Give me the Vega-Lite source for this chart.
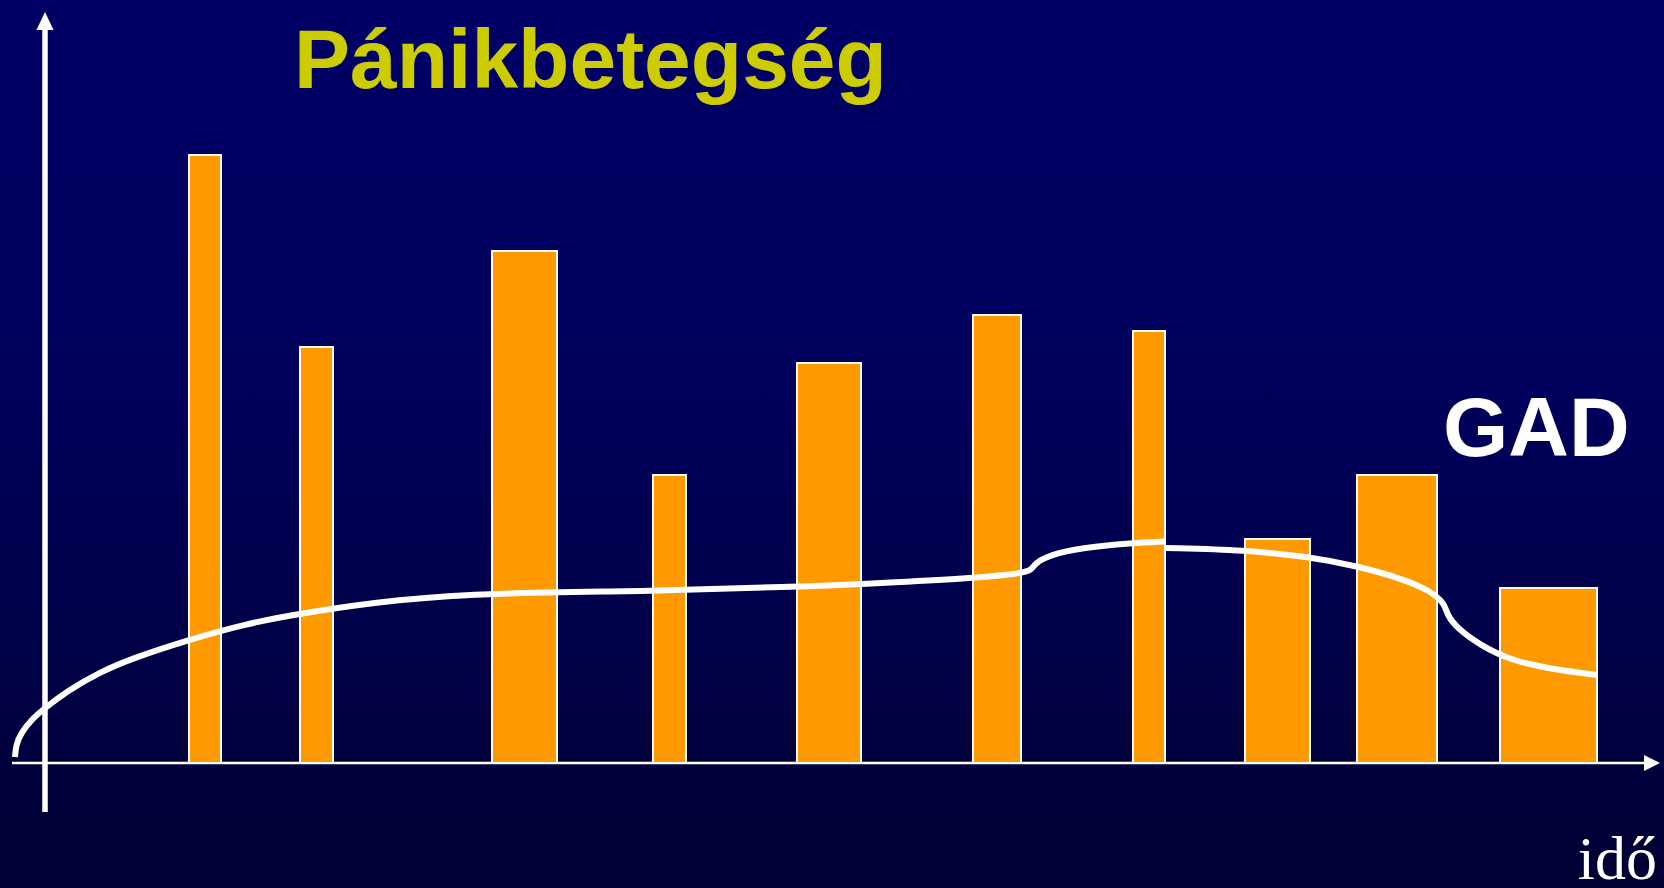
{
  "$schema": "https://vega.github.io/schema/vega-lite/v6.json",
  "width": 1664,
  "height": 888,
  "padding": 0,
  "autosize": {"type": "none"},
  "background": "#000044",
  "config": {"view": {"stroke": null}},
  "datasets": {
    "bars": [
      {"t0": 14.4, "t1": 17.6, "v": 60.8},
      {"t0": 25.5, "t1": 28.8, "v": 41.6},
      {"t0": 44.7, "t1": 51.2, "v": 51.2},
      {"t0": 60.8, "t1": 64.1, "v": 28.8},
      {"t0": 75.2, "t1": 81.6, "v": 40.0},
      {"t0": 92.8, "t1": 97.6, "v": 44.8},
      {"t0": 108.8, "t1": 112.0, "v": 43.2},
      {"t0": 120.0, "t1": 126.5, "v": 22.4},
      {"t0": 131.2, "t1": 139.2, "v": 28.8},
      {"t0": 145.5, "t1": 155.2, "v": 17.5}
    ],
    "gad": [
      {"seg": "a", "t": -3.0, "v": 0.6},
      {"seg": "a", "t": -2.9, "v": 1.8},
      {"seg": "a", "t": -2.4, "v": 3.0},
      {"seg": "a", "t": -1.3, "v": 4.4},
      {"seg": "a", "t": 0.0, "v": 5.5},
      {"seg": "a", "t": 2.2, "v": 7.2},
      {"seg": "a", "t": 5.5, "v": 9.1},
      {"seg": "a", "t": 8.8, "v": 10.5},
      {"seg": "a", "t": 14.3, "v": 12.3},
      {"seg": "a", "t": 20.0, "v": 13.9},
      {"seg": "a", "t": 25.7, "v": 15.0},
      {"seg": "a", "t": 35.5, "v": 16.4},
      {"seg": "a", "t": 44.7, "v": 17.0},
      {"seg": "a", "t": 60.8, "v": 17.2},
      {"seg": "a", "t": 75.2, "v": 17.6},
      {"seg": "a", "t": 85.5, "v": 18.1},
      {"seg": "a", "t": 92.8, "v": 18.5},
      {"seg": "a", "t": 97.6, "v": 18.95},
      {"seg": "a", "t": 98.7, "v": 19.3},
      {"seg": "a", "t": 99.0, "v": 20.0},
      {"seg": "a", "t": 100.5, "v": 20.8},
      {"seg": "a", "t": 103.5, "v": 21.5},
      {"seg": "a", "t": 108.8, "v": 22.0},
      {"seg": "a", "t": 112.0, "v": 22.15},
      {"seg": "b", "t": 112.0, "v": 21.5},
      {"seg": "b", "t": 120.0, "v": 21.3},
      {"seg": "b", "t": 126.5, "v": 20.6},
      {"seg": "b", "t": 131.2, "v": 19.7},
      {"seg": "b", "t": 135.5, "v": 18.5},
      {"seg": "b", "t": 138.6, "v": 17.2},
      {"seg": "b", "t": 140.0, "v": 15.9},
      {"seg": "b", "t": 140.2, "v": 14.8},
      {"seg": "b", "t": 141.3, "v": 13.4},
      {"seg": "b", "t": 143.5, "v": 11.8},
      {"seg": "b", "t": 146.5, "v": 10.3},
      {"seg": "b", "t": 150.5, "v": 9.4},
      {"seg": "b", "t": 155.2, "v": 8.8}
    ]
  },
  "layer": [
    {
      "data": {"values": [{"t0": -4.5, "t1": 161.9, "v0": -12.5, "v1": 76.3}]},
      "mark": {
        "type": "rect",
        "fill": {
          "gradient": "linear",
          "x1": 0, "y1": 0, "x2": 0, "y2": 1,
          "stops": [
            {"offset": 0, "color": "#000066"},
            {"offset": 0.45, "color": "#00005c"},
            {"offset": 1, "color": "#000033"}
          ]
        }
      },
      "encoding": {
        "x": {"field": "t0", "type": "quantitative", "scale": {"domain": [-4.5, 161.9], "nice": false, "zero": false}, "axis": null},
        "x2": {"field": "t1"},
        "y": {"field": "v1", "type": "quantitative", "scale": {"domain": [-12.5, 76.3], "nice": false, "zero": false}, "axis": null},
        "y2": {"field": "v0"}
      }
    },
    {
      "data": {"values": [{"t0": -3.3, "t1": 160.3, "v0": 0, "v1": 0}]},
      "mark": {"type": "rule", "color": "#ffffff", "strokeWidth": 2.5},
      "encoding": {
        "x": {"field": "t0", "type": "quantitative"},
        "x2": {"field": "t1"},
        "y": {"field": "v0", "type": "quantitative"},
        "y2": {"field": "v1"}
      }
    },
    {
      "data": {"values": [{"t": 160.7, "v": 0}]},
      "mark": {"type": "point", "shape": "M1,0L-1,-1L-1,1Z", "size": 256, "filled": true, "color": "#ffffff", "opacity": 1},
      "encoding": {
        "x": {"field": "t", "type": "quantitative"},
        "y": {"field": "v", "type": "quantitative"}
      }
    },
    {
      "data": {"name": "bars"},
      "mark": {"type": "rect", "fill": "#ff9900", "stroke": "#ffffff", "strokeWidth": 2},
      "encoding": {
        "x": {"field": "t0", "type": "quantitative"},
        "x2": {"field": "t1"},
        "y": {"field": "v", "type": "quantitative"},
        "y2": {"datum": 0}
      }
    },
    {
      "data": {"values": [{"t0": 0, "t1": 0, "v0": -4.9, "v1": 73.4}]},
      "mark": {"type": "rule", "color": "#ffffff", "strokeWidth": 5.5},
      "encoding": {
        "x": {"field": "t0", "type": "quantitative"},
        "x2": {"field": "t1"},
        "y": {"field": "v0", "type": "quantitative"},
        "y2": {"field": "v1"}
      }
    },
    {
      "data": {"values": [{"t": 0, "v": 74.2}]},
      "mark": {"type": "point", "shape": "M0,-1L-0.95,1L0.95,1Z", "size": 324, "filled": true, "color": "#ffffff", "opacity": 1},
      "encoding": {
        "x": {"field": "t", "type": "quantitative"},
        "y": {"field": "v", "type": "quantitative"}
      }
    },
    {
      "data": {"name": "gad"},
      "mark": {"type": "line", "color": "#ffffff", "strokeWidth": 6, "interpolate": "basis", "strokeCap": "butt"},
      "encoding": {
        "x": {"field": "t", "type": "quantitative"},
        "y": {"field": "v", "type": "quantitative"},
        "detail": {"field": "seg", "type": "nominal"},
        "order": {"field": "t", "type": "quantitative"}
      }
    },
    {
      "data": {"values": [{"t": 24.9, "v": 67.5, "label": "Pánikbetegség"}]},
      "mark": {"type": "text", "align": "left", "baseline": "alphabetic", "font": "Liberation Sans", "fontWeight": "bold", "fontSize": 84, "color": "#cccc00"},
      "encoding": {
        "x": {"field": "t", "type": "quantitative"},
        "y": {"field": "v", "type": "quantitative"},
        "text": {"field": "label"}
      }
    },
    {
      "data": {"values": [{"t": 139.8, "v": 30.7, "label": "GAD"}]},
      "mark": {"type": "text", "align": "left", "baseline": "alphabetic", "font": "Liberation Sans", "fontWeight": "bold", "fontSize": 84, "color": "#ffffff"},
      "encoding": {
        "x": {"field": "t", "type": "quantitative"},
        "y": {"field": "v", "type": "quantitative"},
        "text": {"field": "label"}
      }
    },
    {
      "data": {"values": [{"t": 161.2, "v": -11.6, "label": "idő"}]},
      "mark": {"type": "text", "align": "right", "baseline": "alphabetic", "font": "Liberation Serif", "fontSize": 62, "color": "#ffffff"},
      "encoding": {
        "x": {"field": "t", "type": "quantitative"},
        "y": {"field": "v", "type": "quantitative"},
        "text": {"field": "label"}
      }
    }
  ]
}
